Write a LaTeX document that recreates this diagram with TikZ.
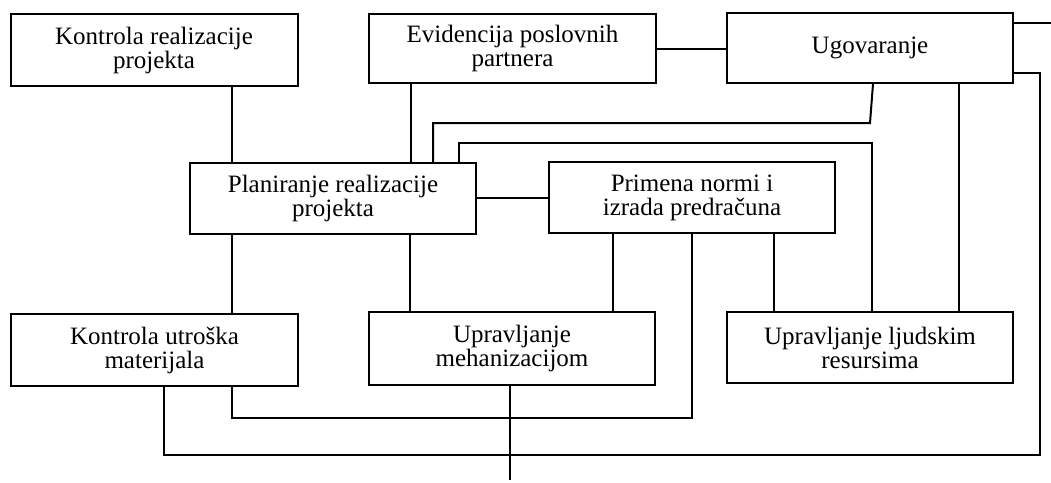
\documentclass[tikz,border=0pt]{standalone}
\usepackage{fontspec}
\setmainfont{Liberation Serif}
\begin{document}
\begin{tikzpicture}[x=1pt,y=-1pt,
  box/.style={draw,line width=2pt,minimum width=287pt,minimum height=71pt,
    align=center,inner sep=0pt,font=\fontsize{25}{24}\selectfont},
  conn/.style={line width=2pt},
  thickconn/.style={line width=2.8pt}]
\useasboundingbox (0,0) rectangle (1051,482);
\node[box,minimum height=72pt] (kr) at (154,50) {Kontrola realizacije\\projekta};
\node[box,minimum height=69pt] (ev) at (512.5,48.5) {Evidencija poslovnih\\partnera};
\node[box,minimum height=70pt,minimum width=286pt] (ug) at (870,48) {Ugovaranje};
\node[box,minimum width=286pt] (pl) at (333,198.5) {Planiranje realizacije\\projekta};
\node[box,minimum width=286pt] (pr) at (692,197.5) {Primena normi i\\izrada predračuna};
\node[box,minimum height=72pt] (ku) at (154.5,350) {Kontrola utroška\\materijala};
\node[box,minimum height=73pt,minimum width=286pt] (me) at (512,348.5) {Upravljanje\\mehanizacijom};
\node[box,minimum width=286pt] (lj) at (870,347.5) {Upravljanje ljudskim\\resursima};
\coordinate (uend) at (1051,23);
\coordinate (mend) at (510,480);

\draw[conn] (kr.south -| 232,0) -- (pl.north -| 232,0);
\draw[thickconn] (ev.south -| 411,0) -- (pl.north -| 411,0);
\draw[conn] (ev.east) -- (ev.east -| ug.west);
\draw[conn] (ug.east |- 0,23) -- (uend);
\draw[conn] (ug.south -| 873,0) -- (870,123) -| (pl.north -| 433,0);
\draw[conn] (pl.north -| 459,0) |- (872,143) -- (lj.north -| 872,0);
\draw[thickconn] (ug.south -| 959,0) -- (lj.north -| 959,0);
\draw[conn] (ug.east |- 0,73) -| (1040,455) -| (ku.south -| 164,0);
\draw[conn] (pl.east |- 0,198) -- (pr.west |- 0,198);
\draw[conn] (pl.south -| 232,0) -- (ku.north -| 232,0);
\draw[conn] (pl.south -| 410,0) -- (me.north -| 410,0);
\draw[conn] (pr.south -| 613,0) -- (me.north -| 613,0);
\draw[conn] (pr.south -| 774,0) -- (lj.north -| 774,0);
\draw[conn] (pr.south -| 692,0) |- (232,418) -- (ku.south -| 232,0);
\draw[conn] (me.south -| 510,0) -- (mend);
\end{tikzpicture}
\end{document}
